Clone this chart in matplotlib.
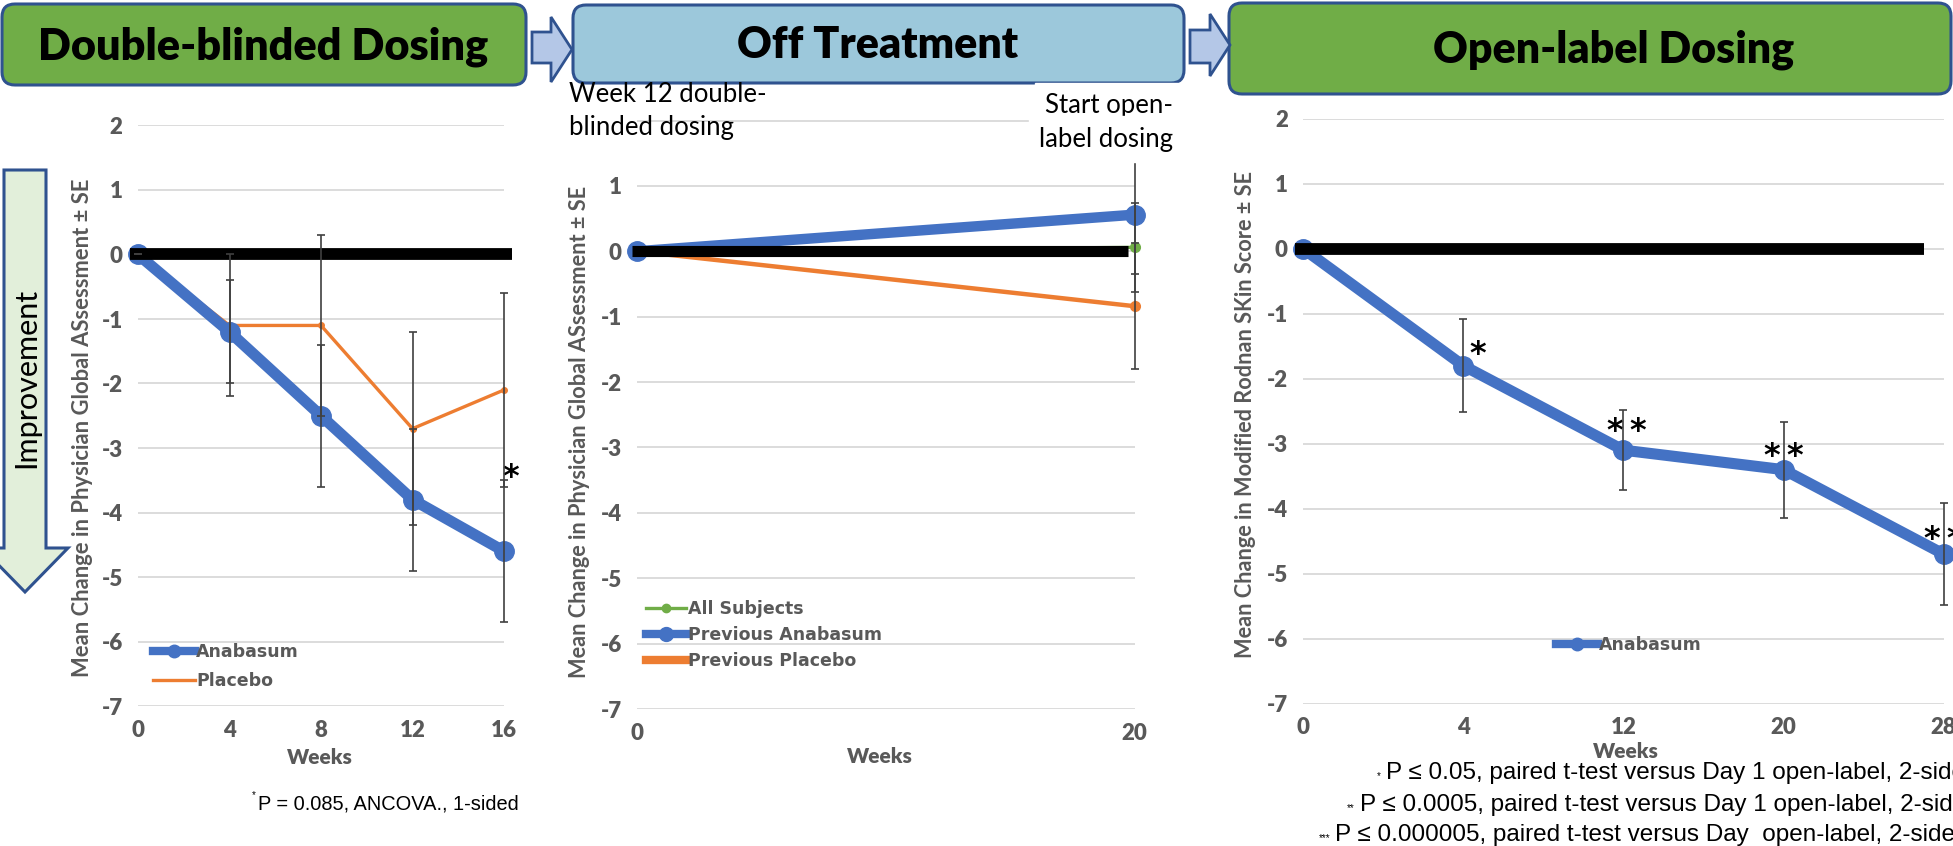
import matplotlib
matplotlib.use("Agg")
import matplotlib.pyplot as plt
from matplotlib.patches import FancyBboxPatch, Polygon
from matplotlib.lines import Line2D

# ---------------- data ----------------
# Panel 1: double-blinded dosing (Physician Global Assessment)
p1_weeks = [0, 4, 8, 12, 16]
p1_anabasum = [0, -1.2, -2.5, -3.8, -4.6]
p1_anabasum_se = [0, 0.8, 1.1, 1.1, 1.1]
p1_placebo = [0, -1.1, -1.1, -2.7, -2.1]
p1_placebo_se = [0, 1.1, 1.4, 1.5, 1.5]
p1_zero_x = [-0.36, 16.36]
p1_star = (16.29, -3.45)

# Panel 2: off treatment
p2_weeks = [0, 20]
p2_all = [0, 0.06]
p2_all_se = [0, 0.68]
p2_prev_anabasum = [0, 0.56]
p2_prev_anabasum_se = [0, 0.9]
p2_prev_placebo = [0, -0.84]
p2_prev_placebo_se = [0, 0.96]
p2_zero_x = [-0.2, 19.75]

# Panel 3: open-label dosing (mRSS), categorical weeks
p3_week_labels = ["0", "4", "12", "20", "28"]
p3_anabasum = [0, -1.8, -3.1, -3.4, -4.7]
p3_anabasum_se = [0, 0.72, 0.62, 0.74, 0.78]
p3_stars = ["", "*", "**", "**", "**"]
p3_star_y = [0, -1.63, -2.82, -3.2, -4.47]
p3_star_dx = [0, 0.09, 0.02, 0.0, 0.0]
p3_zero_x = [-0.05, 3.88]

y_ticks = list(range(-7, 3))

titles = ["Double-blinded Dosing", "Off Treatment", "Open-label Dosing"]
footnotes3 = ["P \u2264 0.05, paired t-test versus Day 1 open-label, 2-sided",
              "P \u2264 0.0005, paired t-test versus Day 1 open-label, 2-sided",
              "P \u2264 0.000005, paired t-test versus Day  open-label, 2-sided"]
footnote_stars = ["*", "**", "***"]
footnote1 = "P = 0.085, ANCOVA., 1-sided"

# ---------------- style ----------------
BLUE = "#4472C4"
ORANGE = "#ED7D31"
GREEN = "#70AD47"
GRID = "#D9D9D9"
TXT = "#595959"
EBAR = "#404040"
BORDER = "#2F528F"

plt.rcParams.update({
    "font.family": "Lato",
    "font.weight": "bold",
    "axes.unicode_minus": False,
    "xtick.labelsize": 16,
    "ytick.labelsize": 16,
    "xtick.labelcolor": TXT,
    "ytick.labelcolor": TXT,
    "xtick.major.size": 0,
    "ytick.major.size": 0,
    "xtick.major.pad": 10,
    "ytick.major.pad": 11,
})

W, H = 1953, 846
fig = plt.figure(figsize=(W / 100, H / 100), dpi=100)
renderer = fig.canvas.get_renderer()


def rect(x0, x1, ytop, ybot):
    return [x0 / W, 1 - ybot / H, (x1 - x0) / W, (ybot - ytop) / H]


def fit(t, target, vertical=False):
    bb = t.get_window_extent(renderer)
    size = bb.height if vertical else bb.width
    t.set_fontsize(t.get_fontsize() * target / size)


def style(ax):
    ax.set_ylim(-7, 2)
    ax.set_yticks(y_ticks)
    ax.grid(axis="y", color=GRID, lw=1.3)
    ax.set_axisbelow(True)
    for s in ax.spines.values():
        s.set_visible(False)


ebar_kw = dict(fmt="none", ecolor=EBAR, elinewidth=1.2, capsize=3, capthick=1.2)
leg_prop = dict(family="DejaVu Sans", weight="bold", size=12.5)
star_kw = dict(fontsize=23, fontweight="bold", ha="center", va="center",
               family="DejaVu Sans", clip_on=False)

# ---------------- panel 1 ----------------
ax1 = fig.add_axes(rect(138, 504, 125.5, 706))
ax1.set_xlim(0, 16)
ax1.set_xticks(p1_weeks)
style(ax1)
ax1.plot(p1_weeks, p1_placebo, color=ORANGE, lw=2.4, marker="o", ms=4, zorder=3, clip_on=False)
ax1.plot(p1_weeks, p1_anabasum, color=BLUE, lw=8, marker="o", ms=14, zorder=4, clip_on=False)
ax1.plot(p1_zero_x, [0, 0], color="black", lw=8.5, solid_capstyle="butt", zorder=5, clip_on=False)
ax1.errorbar(p1_weeks, p1_anabasum, yerr=p1_anabasum_se, zorder=6, clip_on=False, **ebar_kw)
ax1.errorbar(p1_weeks, p1_placebo, yerr=p1_placebo_se, zorder=6, clip_on=False, **ebar_kw)
ax1.text(p1_star[0], p1_star[1], "*", **star_kw)
h1 = [Line2D([], [], color=BLUE, lw=6, marker="o", ms=9),
      Line2D([], [], color=ORANGE, lw=2.4)]
leg1 = ax1.legend(h1, ["Anabasum", "Placebo"], loc="upper left",
                  bbox_to_anchor=(153 / W, 1 - 643 / H), bbox_transform=fig.transFigure,
                  frameon=False, borderpad=0, borderaxespad=0, handlelength=2.4,
                  handletextpad=0.1, labelspacing=0.62, prop=leg_prop)
for t in leg1.get_texts():
    t.set_color(TXT)

# ---------------- panel 2 ----------------
ax2 = fig.add_axes(rect(637, 1134.6, 120.5, 709))
ax2.set_xlim(0, 20)
ax2.set_xticks(p2_weeks)
style(ax2)
ax2.set_yticks(y_ticks, ["" if v == 2 else str(v) for v in y_ticks])
ax2.plot(p2_weeks, p2_all, color=GREEN, lw=2.4, marker="o", ms=7, zorder=3, clip_on=False)
ax2.plot(p2_weeks, p2_prev_placebo, color=ORANGE, lw=3.2, marker="o", ms=7, zorder=3, clip_on=False)
ax2.plot(p2_weeks, p2_prev_anabasum, color=BLUE, lw=7.5, marker="o", ms=14, zorder=4, clip_on=False)
ax2.plot(p2_zero_x, [0, 0], color="black", lw=8, solid_capstyle="butt", zorder=5, clip_on=False)
for yv, se in [(p2_all, p2_all_se), (p2_prev_anabasum, p2_prev_anabasum_se),
               (p2_prev_placebo, p2_prev_placebo_se)]:
    ax2.errorbar(p2_weeks[1:], yv[1:], yerr=se[1:], zorder=6, clip_on=False, **ebar_kw)
h2 = [Line2D([], [], color=GREEN, lw=2.4, marker="o", ms=6),
      Line2D([], [], color=BLUE, lw=6, marker="o", ms=10),
      Line2D([], [], color=ORANGE, lw=6)]
leg2 = ax2.legend(h2, ["All Subjects", "Previous Anabasum", "Previous Placebo"], loc="upper left",
                  bbox_to_anchor=(646 / W, 1 - 600 / H), bbox_transform=fig.transFigure,
                  frameon=False, borderpad=0, borderaxespad=0, handlelength=2.3,
                  handletextpad=0.1, labelspacing=0.45, prop=leg_prop)
for t in leg2.get_texts():
    t.set_color(TXT)

# ---------------- panel 3 ----------------
ax3 = fig.add_axes(rect(1303.2, 1943.7, 118.75, 703.6))
x3 = list(range(len(p3_week_labels)))
ax3.set_xlim(0, len(x3) - 1)
ax3.set_xticks(x3, p3_week_labels)
style(ax3)
ax3.plot(x3, p3_anabasum, color=BLUE, lw=8, marker="o", ms=14, zorder=4, clip_on=False)
ax3.plot(p3_zero_x, [0, 0], color="black", lw=8.5, solid_capstyle="butt", zorder=5, clip_on=False)
ax3.errorbar(x3[1:], p3_anabasum[1:], yerr=p3_anabasum_se[1:], zorder=6, clip_on=False, **ebar_kw)
for xi, s, sy, dx in zip(x3, p3_stars, p3_star_y, p3_star_dx):
    if s:
        ax3.text(xi + dx, sy, "\u2009".join(s), **star_kw)
h3 = [Line2D([], [], color=BLUE, lw=6, marker="o", ms=9)]
leg3 = ax3.legend(h3, ["Anabasum"], loc="center left",
                  bbox_to_anchor=(1556 / W, 1 - 645.5 / H), bbox_transform=fig.transFigure,
                  frameon=False, borderpad=0, borderaxespad=0, handlelength=2.4,
                  handletextpad=0.1, prop=leg_prop)
for t in leg3.get_texts():
    t.set_color(TXT)

# axis labels
ylabel_kw = dict(rotation=90, ha="center", va="center", color=TXT, fontweight="bold", fontsize=14)
yl1 = fig.text(83 / W, 1 - 428 / H, "Mean Change in Physician Global ASsessment \u00b1 SE", **ylabel_kw)
yl2 = fig.text(580 / W, 1 - 432 / H, "Mean Change in Physician Global ASsessment \u00b1 SE", **ylabel_kw)
yl3 = fig.text(1245 / W, 1 - 415 / H, "Mean Change in Modified Rodnan SKin Score \u00b1 SE", **ylabel_kw)
fit(yl1, 500, vertical=True)
fit(yl2, 495, vertical=True)
fit(yl3, 490, vertical=True)
weeks_kw = dict(ha="center", va="center", color=TXT, fontweight="heavy", fontsize=15)
fig.text(320 / W, 1 - 757 / H, "Weeks", **weeks_kw)
fig.text(880 / W, 1 - 756 / H, "Weeks", **weeks_kw)
fig.text(1626 / W, 1 - 752 / H, "Weeks", **weeks_kw)

# ---------------- overlay: boxes, arrows, notes ----------------
ov = fig.add_axes([0, 0, 1, 1], zorder=10)
ov.set_xlim(0, W)
ov.set_ylim(H, 0)
ov.axis("off")

box_specs = [(2, 4, 524, 81, GREEN), (573, 5, 611, 78, "#9CC8DB"), (1229, 3, 722, 91, GREEN)]
for (bx, by, bw, bh, fc) in box_specs:
    ov.add_patch(FancyBboxPatch((bx, by), bw, bh, boxstyle="round,pad=0,rounding_size=13",
                                facecolor=fc, edgecolor=BORDER, lw=2.2))
title_pos = [(263, 47, 452), (878, 45, 281), (1614, 50, 362)]
for txt, (tx, ty, tw) in zip(titles, title_pos):
    t = ov.text(tx, ty, txt, ha="center", va="center", fontweight="heavy",
                fontsize=32, color="black")
    fit(t, tw)

arrow_specs = [
    [(532, 32), (551, 32), (551, 17), (572, 49.5), (551, 82), (551, 63), (532, 63)],
    [(1190, 30), (1210, 30), (1210, 14), (1230, 45), (1210, 76), (1210, 63), (1190, 63)],
]
for pts in arrow_specs:
    ov.add_patch(Polygon(pts, closed=True, facecolor="#B4C7E7", edgecolor=BORDER, lw=2))

ov.add_patch(Polygon([(4, 170), (46, 170), (46, 548), (68, 548), (25, 592), (-18, 548), (4, 548)],
                     closed=True, facecolor="#E2EFDA", edgecolor=BORDER, lw=2.2, clip_on=False))
imp = ov.text(26, 378, "Improvement", rotation=90, ha="center", va="center",
              fontweight="normal", fontsize=21, color="black")
fit(imp, 180, vertical=True)

note_kw = dict(fontsize=18.5, fontweight="normal", color="black", va="center")
ov.text(569, 95, "Week 12 double-", ha="left", **note_kw)
ov.text(569, 128, "blinded dosing", ha="left", **note_kw)
ov.text(1173, 106, "Start open-", ha="right", backgroundcolor="white", **note_kw)
ov.text(1173, 139, "label dosing", ha="right", backgroundcolor="white", **note_kw)

# footnote panel 1
fn1 = ov.text(258, 804, footnote1, ha="left", va="center", family="Liberation Sans",
              fontweight="normal", fontsize=15, color="black")
fit(fn1, 262)
ov.text(254, 795, "*", ha="center", va="center", family="Liberation Sans", fontweight="normal",
        fontsize=7, color="black")

# footnotes panel 3
fn_x = [1386, 1360, 1335]
fn_y = [773.5, 805.5, 835.5]
for s, txt, fx, fy in zip(footnote_stars, footnotes3, fn_x, fn_y):
    ov.text(fx, fy, txt, ha="left", va="center", family="Liberation Sans", fontweight="normal",
            fontsize=17.5, color="black", clip_on=False)
    ov.text(fx - 5, fy + 3, s, ha="right", va="center", family="Liberation Sans",
            fontweight="normal", fontsize=7, color="black")

# make sure tick labels carry the intended font settings
fig.canvas.draw()
for ax in (ax1, ax2, ax3):
    for lbl in ax.get_xticklabels() + ax.get_yticklabels():
        lbl.set_fontsize(16)
        lbl.set_fontweight("heavy")
        lbl.set_color(TXT)

fig.savefig("out.png", dpi=100)
